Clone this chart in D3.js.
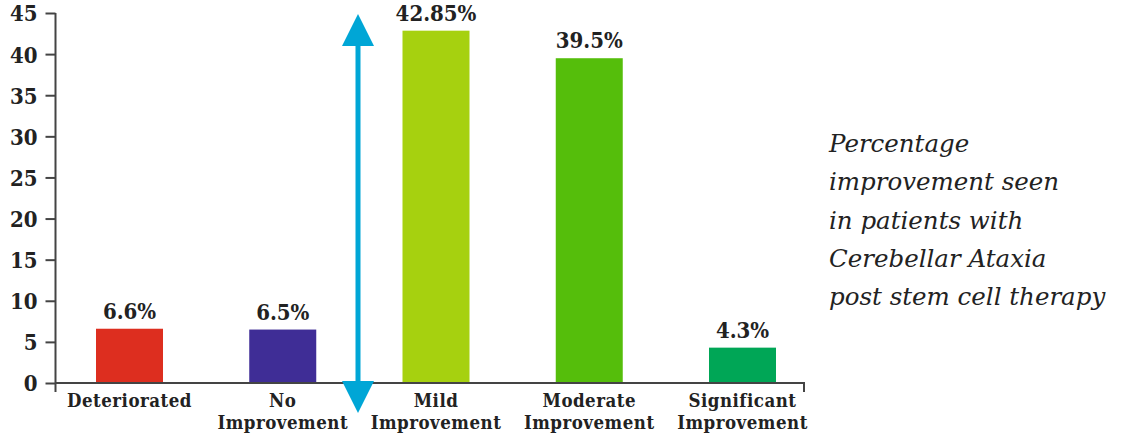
<!DOCTYPE html>
<html>
<head>
<meta charset="utf-8">
<script src="https://cdn.jsdelivr.net/npm/d3@7"></script>
<style>
  html, body { margin: 0; padding: 0; background: #fff; }
  svg { display: block; }
  .tick-label, .cat-label, .val-label { font-family: "DejaVu Serif Condensed", "DejaVu Serif", serif; font-stretch: condensed; font-weight: bold; fill: #222; }
  .caption { font-family: "DejaVu Serif", serif; font-style: italic; fill: #222; }
</style>
</head>
<body>
<svg id="chart" width="1121" height="436"></svg>
<script>
// Outcome categories (two-line axis labels)
const categories = ["Deteriorated", "No Improvement", "Mild Improvement", "Moderate Improvement", "Significant Improvement"];
const categoryLines = [["Deteriorated"], ["No", "Improvement"], ["Mild", "Improvement"], ["Moderate", "Improvement"], ["Significant", "Improvement"]];
// Share of patients per outcome (%)
const values = [6.6, 6.5, 42.85, 39.5, 4.3];
const valueLabels = ["6.6%", "6.5%", "42.85%", "39.5%", "4.3%"];
const barColors = ["#DD2E1F", "#3F2D96", "#A6D10F", "#55BE0B", "#00A656"];
const yTicks = [0, 5, 10, 15, 20, 25, 30, 35, 40, 45];
const captionLines = ["Percentage", "improvement seen", "in patients with", "Cerebellar Ataxia", "post stem cell therapy"];

const svg = d3.select("#chart");
const axisColor = "#444";

const y = d3.scaleLinear().domain([0, 45]).range([383, 13]);
const x = d3.scalePoint().domain(categories).range([129.5, 742.5]);
const barWidth = 67;
const axisLeft = 55.5, axisRight = 804, axisBottomExt = 392;

// Bars
svg.append("g").selectAll("rect")
  .data(categories)
  .join("rect")
  .attr("x", d => x(d) - barWidth / 2)
  .attr("width", barWidth)
  .attr("y", (d, i) => y(values[i]))
  .attr("height", (d, i) => y(0) - y(values[i]))
  .attr("fill", (d, i) => barColors[i]);

// Value labels above bars
svg.append("g").selectAll("text")
  .data(categories)
  .join("text")
  .attr("class", "val-label")
  .attr("x", d => x(d))
  .attr("y", (d, i) => y(values[i]) - 10)
  .attr("text-anchor", "middle")
  .attr("font-size", 22)
  .text((d, i) => valueLabels[i]);

// Y axis
const yAxis = d3.axisLeft(y).tickValues(yTicks).tickSize(10).tickSizeOuter(0).tickFormat(d3.format("d"));
const gy = svg.append("g").attr("transform", `translate(${axisLeft},0)`).call(yAxis);
gy.attr("font-family", null).attr("font-size", null);
gy.select(".domain").remove();
gy.selectAll(".tick line").attr("stroke", axisColor).attr("stroke-width", 2);
gy.selectAll(".tick text")
  .attr("class", "tick-label")
  .attr("x", -18)
  .attr("dy", "0.36em")
  .attr("font-size", 22);
svg.append("line")
  .attr("x1", axisLeft).attr("x2", axisLeft)
  .attr("y1", y(45)).attr("y2", axisBottomExt)
  .attr("stroke", axisColor).attr("stroke-width", 2);

// X axis baseline with closing tick
svg.append("path")
  .attr("d", `M${axisLeft},${y(0)}H${axisRight}V${axisBottomExt}`)
  .attr("fill", "none")
  .attr("stroke", axisColor)
  .attr("stroke-width", 2);

// Category labels, one text element per line
const catLineSize = 18.5, catLineGap = 21.5;
const catG = svg.append("g").selectAll("g")
  .data(categories)
  .join("g")
  .attr("transform", d => `translate(${x(d)},${y(0) + 24})`);
catG.selectAll("text")
  .data((d, i) => categoryLines[i])
  .join("text")
  .attr("class", "cat-label")
  .attr("text-anchor", "middle")
  .attr("font-size", catLineSize)
  .attr("letter-spacing", 0.5)
  .attr("y", (d, i) => i * catLineGap)
  .text(d => d);

// Double-headed arrow between "No Improvement" and "Mild Improvement"
const arrowX = 358;
const headH = 32, headW = 32, shaftW = 5;
const topTip = y(45) + 1, bottomTip = y(0) + 30;
const arrow = svg.append("g").attr("fill", "#00A6D6");
arrow.append("rect")
  .attr("x", arrowX - shaftW / 2).attr("width", shaftW)
  .attr("y", topTip + headH - 1).attr("height", (bottomTip - headH) - (topTip + headH) + 2);
arrow.append("path")
  .attr("d", `M${arrowX},${topTip}L${arrowX + headW / 2},${topTip + headH}H${arrowX - headW / 2}Z`);
arrow.append("path")
  .attr("d", `M${arrowX},${bottomTip}L${arrowX + headW / 2},${bottomTip - headH}H${arrowX - headW / 2}Z`);

// Caption
svg.append("g").selectAll("text")
  .data(captionLines)
  .join("text")
  .attr("class", "caption")
  .attr("x", 829)
  .attr("y", (d, i) => 152 + i * 38.3)
  .attr("font-size", 24.5)
  .text(d => d);
</script>
</body>
</html>
